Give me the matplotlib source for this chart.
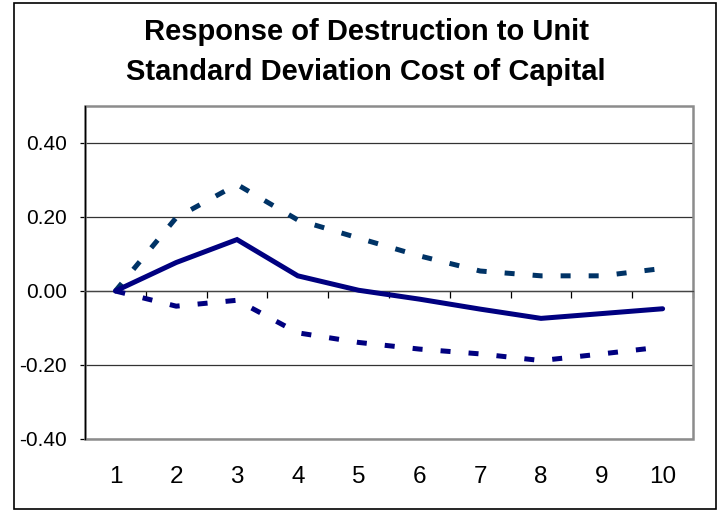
import matplotlib
matplotlib.use("Agg")
import matplotlib.pyplot as plt
from matplotlib.patches import Rectangle
import numpy as np

plt.rcParams['font.family'] = ['Liberation Sans', 'DejaVu Sans']
plt.rcParams['lines.scale_dashes'] = False

periods = [1, 2, 3, 4, 5, 6, 7, 8, 9, 10]
response = [0.000, 0.077, 0.139, 0.041, 0.002, -0.022, -0.049, -0.074, -0.061, -0.048]
upper = [0.000, 0.198, 0.288, 0.192, 0.143, 0.095, 0.054, 0.041, 0.041, 0.061]
lower = [0.000, -0.041, -0.025, -0.113, -0.139, -0.157, -0.170, -0.188, -0.170, -0.151]
y_ticks = [-0.4, -0.2, 0.0, 0.2, 0.4]
y_tick_labels = ["-0.40", "-0.20", "0.00", "0.20", "0.40"]
title_lines = ["Response of Destruction to Unit", "Standard Deviation Cost of Capital"]

W, H = 725, 512
fig = plt.figure(figsize=(W / 100, H / 100), dpi=100)

# outer chart frame
fig.patches.append(Rectangle((14 / W, 1 - 509 / H), (716 - 14) / W, (509 - 3) / H,
                             transform=fig.transFigure, fill=False,
                             edgecolor='black', linewidth=1.2))

fig.text(366 / W, 1 - 40 / H, title_lines[0], ha='center', va='baseline',
         fontsize=21, fontweight='bold')
fig.text(366 / W, 1 - 80 / H, title_lines[1], ha='center', va='baseline',
         fontsize=21, fontweight='bold')

left, right, top, bottom = 85, 693, 106, 439
ax = fig.add_axes([left / W, 1 - bottom / H, (right - left) / W, (bottom - top) / H])

x = np.array(periods)
dash = (0, (7.2, 13.0))
ax.plot(x, upper, color='#003366', linewidth=3.6, linestyle=dash,
        dash_capstyle='butt', zorder=3)
ax.plot(x, lower, color='#000080', linewidth=3.6, linestyle=dash,
        dash_capstyle='butt', zorder=3)
ax.plot(x, response, color='#000080', linewidth=3.6, solid_capstyle='round',
        solid_joinstyle='miter', zorder=4)

ax.set_xlim(0.5, 10.5)
ax.set_ylim(-0.4, 0.5)

# y axis
ax.set_yticks(y_ticks)
ax.set_yticklabels(y_tick_labels, fontsize=15)
ax.tick_params(axis='y', direction='out', length=3.6, width=0.9, color='black', pad=9.5)
ax.yaxis.grid(True, color='#333333', linewidth=0.9)
ax.set_axisbelow(True)

# x axis crossing at zero, labels at bottom
ax.spines['bottom'].set_position(('data', 0))
ax.spines['bottom'].set_color('#444444')
ax.spines['bottom'].set_linewidth(0.9)
ax.set_xticks(np.arange(0.5, 11.0, 1.0))
ax.set_xticklabels([])
ax.set_xticks(x, minor=True)
ax.set_xticklabels([str(p) for p in periods], minor=True, fontsize=17.5)
ax.tick_params(axis='x', which='major', direction='out', length=5, width=0.9, color='black')
ax.tick_params(axis='x', which='minor', length=0, pad=126)

ax.spines['left'].set_color('black')
ax.spines['left'].set_linewidth(1.0)
for s in ['top', 'right']:
    ax.spines[s].set_visible(False)

# plot-area border
ax.add_patch(Rectangle((0, 0), 1, 1, transform=ax.transAxes, fill=False,
                       edgecolor='#8c8c8c', linewidth=1.8, zorder=1, clip_on=False))
ax.spines['left'].set_zorder(2)

fig.savefig('out.png', dpi=100)
